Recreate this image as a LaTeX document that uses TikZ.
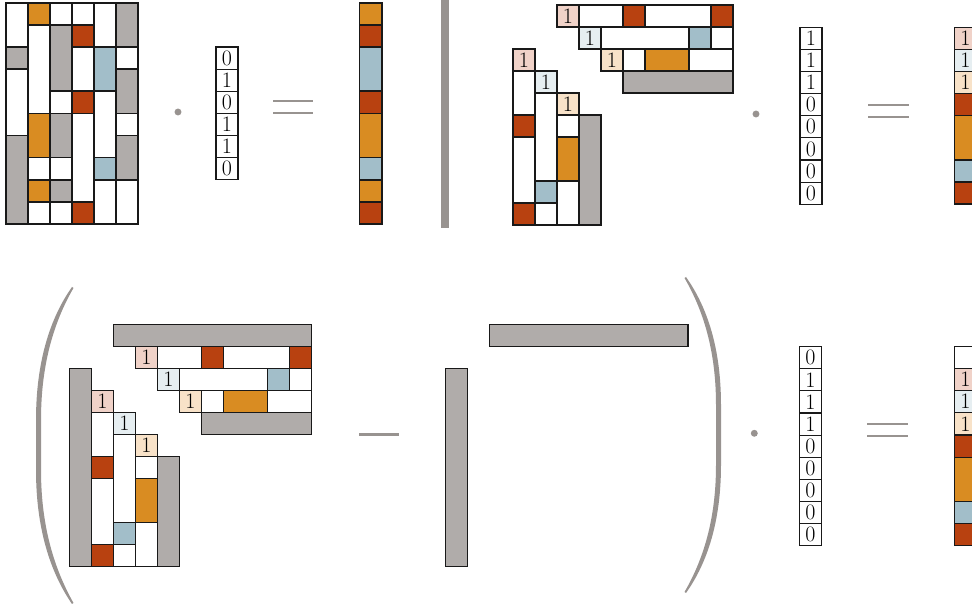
\documentclass[tikz,border=0pt]{standalone}
\usepackage{xcolor}

\definecolor{mgray}{RGB}{176,172,170}
\definecolor{morange}{RGB}{217,140,34}
\definecolor{mred}{RGB}{184,65,16}
\definecolor{mblue}{RGB}{162,190,201}
\definecolor{mpink}{RGB}{240,210,200}
\definecolor{mlblue}{RGB}{230,238,241}
\definecolor{mpeach}{RGB}{248,226,200}
\definecolor{opgray}{RGB}{152,147,144}
\definecolor{edge}{RGB}{25,25,25}

\newcommand{\digitfont}{\fontsize{16.5}{18}\selectfont}

\tikzset{every picture/.style={line width=0.75pt}}
\tikzset{
  mcell/.style={draw=edge, line width=0.8pt},
  numcell/.style={draw=edge, line width=0.8pt, inner sep=0pt, minimum width=16.5pt, minimum height=16.6pt, font=\digitfont},
  opline/.style={draw=opgray, line width=1.8pt},
}

\begin{document}
\begin{tikzpicture}[x=0.75pt,y=0.75pt,yscale=-1,xscale=1]
	\useasboundingbox (0,0) rectangle (972,609);

	%Shape: Matrix A, column 1
	\draw[mcell] (6,3) rectangle (28,47);
	\draw[mcell,fill=mgray] (6,47) rectangle (28,69);
	\draw[mcell] (6,69) rectangle (28,135.5);
	\draw[mcell,fill=mgray] (6,135.5) rectangle (28,224);
	%Shape: Matrix A, column 2
	\draw[mcell,fill=morange] (28,3) rectangle (50,25);
	\draw[mcell] (28,25) rectangle (50,113.5);
	\draw[mcell,fill=morange] (28,113.5) rectangle (50,157.5);
	\draw[mcell] (28,157.5) rectangle (50,180);
	\draw[mcell,fill=morange] (28,180) rectangle (50,202);
	\draw[mcell] (28,202) rectangle (50,224);
	%Shape: Matrix A, column 3
	\draw[mcell] (50,3) rectangle (72,25);
	\draw[mcell,fill=mgray] (50,25) rectangle (72,91);
	\draw[mcell] (50,91) rectangle (72,113.5);
	\draw[mcell,fill=mgray] (50,113.5) rectangle (72,157.5);
	\draw[mcell] (50,157.5) rectangle (72,180);
	\draw[mcell,fill=mgray] (50,180) rectangle (72,202);
	\draw[mcell] (50,202) rectangle (72,224);
	%Shape: Matrix A, column 4
	\draw[mcell] (72,3) rectangle (94,25);
	\draw[mcell,fill=mred] (72,25) rectangle (94,47);
	\draw[mcell] (72,47) rectangle (94,91);
	\draw[mcell,fill=mred] (72,91) rectangle (94,113.5);
	\draw[mcell] (72,113.5) rectangle (94,202);
	\draw[mcell,fill=mred] (72,202) rectangle (94,224);
	%Shape: Matrix A, column 5
	\draw[mcell] (94,3) rectangle (116,47);
	\draw[mcell,fill=mblue] (94,47) rectangle (116,91);
	\draw[mcell] (94,91) rectangle (116,157.5);
	\draw[mcell,fill=mblue] (94,157.5) rectangle (116,180);
	\draw[mcell] (94,180) rectangle (116,224);
	%Shape: Matrix A, column 6
	\draw[mcell,fill=mgray] (116,3) rectangle (138,47);
	\draw[mcell] (116,47) rectangle (138,69);
	\draw[mcell,fill=mgray] (116,69) rectangle (138,113.5);
	\draw[mcell] (116,113.5) rectangle (138,135.5);
	\draw[mcell,fill=mgray] (116,135.5) rectangle (138,180);
	\draw[mcell] (116,180) rectangle (138,224);

	%Shape: Dot
	\fill[opgray] (178,112) circle (2.6pt);
	% Text Node
	\node[numcell] (xa1) at (227,58.1) {0};
	\node[numcell] (xa2) at (227,80.2) {1};
	\node[numcell] (xa3) at (227,102.3) {0};
	\node[numcell] (xa4) at (227,124.5) {1};
	\node[numcell] (xa5) at (227,146.6) {1};
	\node[numcell] (xa6) at (227,168.7) {0};
	%Straight Lines: equals
	\draw[opline] (273,101) -- (313,101);
	\draw[opline] (273,113) -- (313,113);

	%Shape: Result A
	\draw[mcell,fill=morange] (359.5,3) rectangle (382,25);
	\draw[mcell,fill=mred] (359.5,25) rectangle (382,47);
	\draw[mcell,fill=mblue] (359.5,47) rectangle (382,91);
	\draw[mcell,fill=mred] (359.5,91) rectangle (382,113.5);
	\draw[mcell,fill=morange] (359.5,113.5) rectangle (382,157.5);
	\draw[mcell,fill=mblue] (359.5,157.5) rectangle (382,180);
	\draw[mcell,fill=morange] (359.5,180) rectangle (382,202);
	\draw[mcell,fill=mred] (359.5,202) rectangle (382,224);

	%Shape: Separator
	\fill[opgray] (441,0) rectangle (449,228);

	%Shape: Matrix B, upper rows
	\node[numcell,fill=mpink,minimum height=16.5pt] (bu1) at (568,16) {1};
	\draw[mcell] (579,5) rectangle (623,27);
	\draw[mcell,fill=mred] (623,5) rectangle (645,27);
	\draw[mcell] (645,5) rectangle (711,27);
	\draw[mcell,fill=mred] (711,5) rectangle (733,27);
	\node[numcell,fill=mlblue,minimum height=16.5pt] (bu2) at (590,38) {1};
	\draw[mcell] (601,27) rectangle (689,49);
	\draw[mcell,fill=mblue] (689,27) rectangle (711,49);
	\draw[mcell] (711,27) rectangle (733,49);
	\node[numcell,fill=mpeach,minimum height=16.5pt] (bu3) at (612,60) {1};
	\draw[mcell] (623,49) rectangle (645,71);
	\draw[mcell,fill=morange] (645,49) rectangle (689,71);
	\draw[mcell] (689,49) rectangle (733,71);
	\draw[mcell,fill=mgray] (623,71) rectangle (733,93);
	%Shape: Matrix B, left columns
	\node[numcell,fill=mpink,minimum height=16.5pt] (bl1) at (524,60) {1};
	\draw[mcell] (513,71) rectangle (535,115);
	\draw[mcell,fill=mred] (513,115) rectangle (535,137);
	\draw[mcell] (513,137) rectangle (535,203);
	\draw[mcell,fill=mred] (513,203) rectangle (535,225);
	\node[numcell,fill=mlblue,minimum height=16.5pt] (bl2) at (546,82) {1};
	\draw[mcell] (535,93) rectangle (557,181);
	\draw[mcell,fill=mblue] (535,181) rectangle (557,203);
	\draw[mcell] (535,203) rectangle (557,225);
	\node[numcell,fill=mpeach,minimum height=16.5pt] (bl3) at (568,104) {1};
	\draw[mcell] (557,115) rectangle (579,137);
	\draw[mcell,fill=morange] (557,137) rectangle (579,181);
	\draw[mcell] (557,181) rectangle (579,225);
	\draw[mcell,fill=mgray] (579,115) rectangle (601,225);

	%Shape: Dot
	\fill[opgray] (756,114) circle (2.6pt);
	% Text Node
	\node[numcell] (xb1) at (811,38.4) {1};
	\node[numcell] (xb2) at (811,60.5) {1};
	\node[numcell] (xb3) at (811,82.6) {1};
	\node[numcell] (xb4) at (811,104.7) {0};
	\node[numcell] (xb5) at (811,126.9) {0};
	\node[numcell] (xb6) at (811,149) {0};
	\node[numcell] (xb7) at (811,171.1) {0};
	\node[numcell] (xb8) at (811,193.2) {0};
	%Straight Lines: equals
	\draw[opline] (868,105.3) -- (909,105.3);
	\draw[opline] (868,117) -- (909,117);

	%Shape: Result B
	\node[numcell,fill=mpink] (rb1) at (965.3,38.5) {1};
	\node[numcell,fill=mlblue] (rb2) at (965.3,60.6) {1};
	\node[numcell,fill=mpeach] (rb3) at (965.3,82.7) {1};
	\draw[mcell,fill=mred] (954.3,93.7) rectangle (976.3,115.7);
	\draw[mcell,fill=morange] (954.3,115.7) rectangle (976.3,160);
	\draw[mcell,fill=mblue] (954.3,160) rectangle (976.3,182);
	\draw[mcell,fill=mred] (954.3,182) rectangle (976.3,204);

	%Shape: Left bracket
	\fill[opgray] (72,287) .. controls (50,318) and (36,362) .. (36,420) -- (36,470) .. controls (36,528) and (50,572) .. (72,604) -- (73.5,603) .. controls (55,570) and (41,528) .. (41,470) -- (41,420) .. controls (41,362) and (55,320) .. (73.5,288) -- cycle;

	%Shape: Matrix C, gray borders
	\draw[mcell,fill=mgray] (113.3,324.3) rectangle (311.3,346.3);
	\draw[mcell,fill=mgray] (69.3,368.3) rectangle (91.3,566.3);
	%Shape: Matrix C, upper rows
	\node[numcell,fill=mpink,minimum height=16.5pt] (cu1) at (146.3,357.3) {1};
	\draw[mcell] (157.3,346.3) rectangle (201.3,368.3);
	\draw[mcell,fill=mred] (201.3,346.3) rectangle (223.3,368.3);
	\draw[mcell] (223.3,346.3) rectangle (289.3,368.3);
	\draw[mcell,fill=mred] (289.3,346.3) rectangle (311.3,368.3);
	\node[numcell,fill=mlblue,minimum height=16.5pt] (cu2) at (168.3,379.3) {1};
	\draw[mcell] (179.3,368.3) rectangle (267.3,390.3);
	\draw[mcell,fill=mblue] (267.3,368.3) rectangle (289.3,390.3);
	\draw[mcell] (289.3,368.3) rectangle (311.3,390.3);
	\node[numcell,fill=mpeach,minimum height=16.5pt] (cu3) at (190.3,401.3) {1};
	\draw[mcell] (201.3,390.3) rectangle (223.3,412.3);
	\draw[mcell,fill=morange] (223.3,390.3) rectangle (267.3,412.3);
	\draw[mcell] (267.3,390.3) rectangle (311.3,412.3);
	\draw[mcell,fill=mgray] (201.3,412.3) rectangle (311.3,434.3);
	%Shape: Matrix C, left columns
	\node[numcell,fill=mpink,minimum height=16.5pt] (cl1) at (102.3,401.3) {1};
	\draw[mcell] (91.3,412.3) rectangle (113.3,456.3);
	\draw[mcell,fill=mred] (91.3,456.3) rectangle (113.3,478.3);
	\draw[mcell] (91.3,478.3) rectangle (113.3,544.3);
	\draw[mcell,fill=mred] (91.3,544.3) rectangle (113.3,566.3);
	\node[numcell,fill=mlblue,minimum height=16.5pt] (cl2) at (124.3,423.3) {1};
	\draw[mcell] (113.3,434.3) rectangle (135.3,522.3);
	\draw[mcell,fill=mblue] (113.3,522.3) rectangle (135.3,544.3);
	\draw[mcell] (113.3,544.3) rectangle (135.3,566.3);
	\node[numcell,fill=mpeach,minimum height=16.5pt] (cl3) at (146.3,445.3) {1};
	\draw[mcell] (135.3,456.3) rectangle (157.3,478.3);
	\draw[mcell,fill=morange] (135.3,478.3) rectangle (157.3,522.3);
	\draw[mcell] (135.3,522.3) rectangle (157.3,566.3);
	\draw[mcell,fill=mgray] (157.3,456.3) rectangle (179.3,566.3);

	%Straight Lines: minus
	\draw[opline] (359,434.7) -- (399,434.7);

	%Shape: Matrix D
	\draw[mcell,fill=mgray] (489.3,324.3) rectangle (688,346.3);
	\draw[mcell,fill=mgray] (445.3,368.3) rectangle (467.3,566.3);

	%Shape: Right bracket
	\fill[opgray] (686,277) .. controls (708,308) and (721,350) .. (721,405) -- (721,465) .. controls (721,520) and (708,562) .. (686,593) -- (684.5,592) .. controls (703,560) and (716,520) .. (716,465) -- (716,405) .. controls (716,350) and (703,310) .. (684.5,278) -- cycle;

	%Shape: Dot
	\fill[opgray] (754.3,433.3) circle (2.6pt);
	% Text Node
	\node[numcell] (xc1) at (810.3,357.8) {0};
	\node[numcell] (xc2) at (810.3,379.9) {1};
	\node[numcell] (xc3) at (810.3,402) {1};
	\node[numcell] (xc4) at (810.3,424.1) {1};
	\node[numcell] (xc5) at (810.3,446.2) {0};
	\node[numcell] (xc6) at (810.3,468.3) {0};
	\node[numcell] (xc7) at (810.3,490.4) {0};
	\node[numcell] (xc8) at (810.3,512.5) {0};
	\node[numcell] (xc9) at (810.3,534.6) {0};
	%Straight Lines: equals
	\draw[opline] (867,424.3) -- (908.3,424.3);
	\draw[opline] (867,436) -- (908.3,436);

	%Shape: Result C
	\draw[mcell] (954.3,346.7) rectangle (976.3,368.7);
	\node[numcell,fill=mpink] (rc1) at (965.3,379.7) {1};
	\node[numcell,fill=mlblue] (rc2) at (965.3,401.7) {1};
	\node[numcell,fill=mpeach] (rc3) at (965.3,423.8) {1};
	\draw[mcell,fill=mred] (954.3,435) rectangle (976.3,457.5);
	\draw[mcell,fill=morange] (954.3,457.5) rectangle (976.3,501.5);
	\draw[mcell,fill=mblue] (954.3,501.5) rectangle (976.3,523.3);
	\draw[mcell,fill=mred] (954.3,523.3) rectangle (976.3,545.7);
\end{tikzpicture}
\end{document}
